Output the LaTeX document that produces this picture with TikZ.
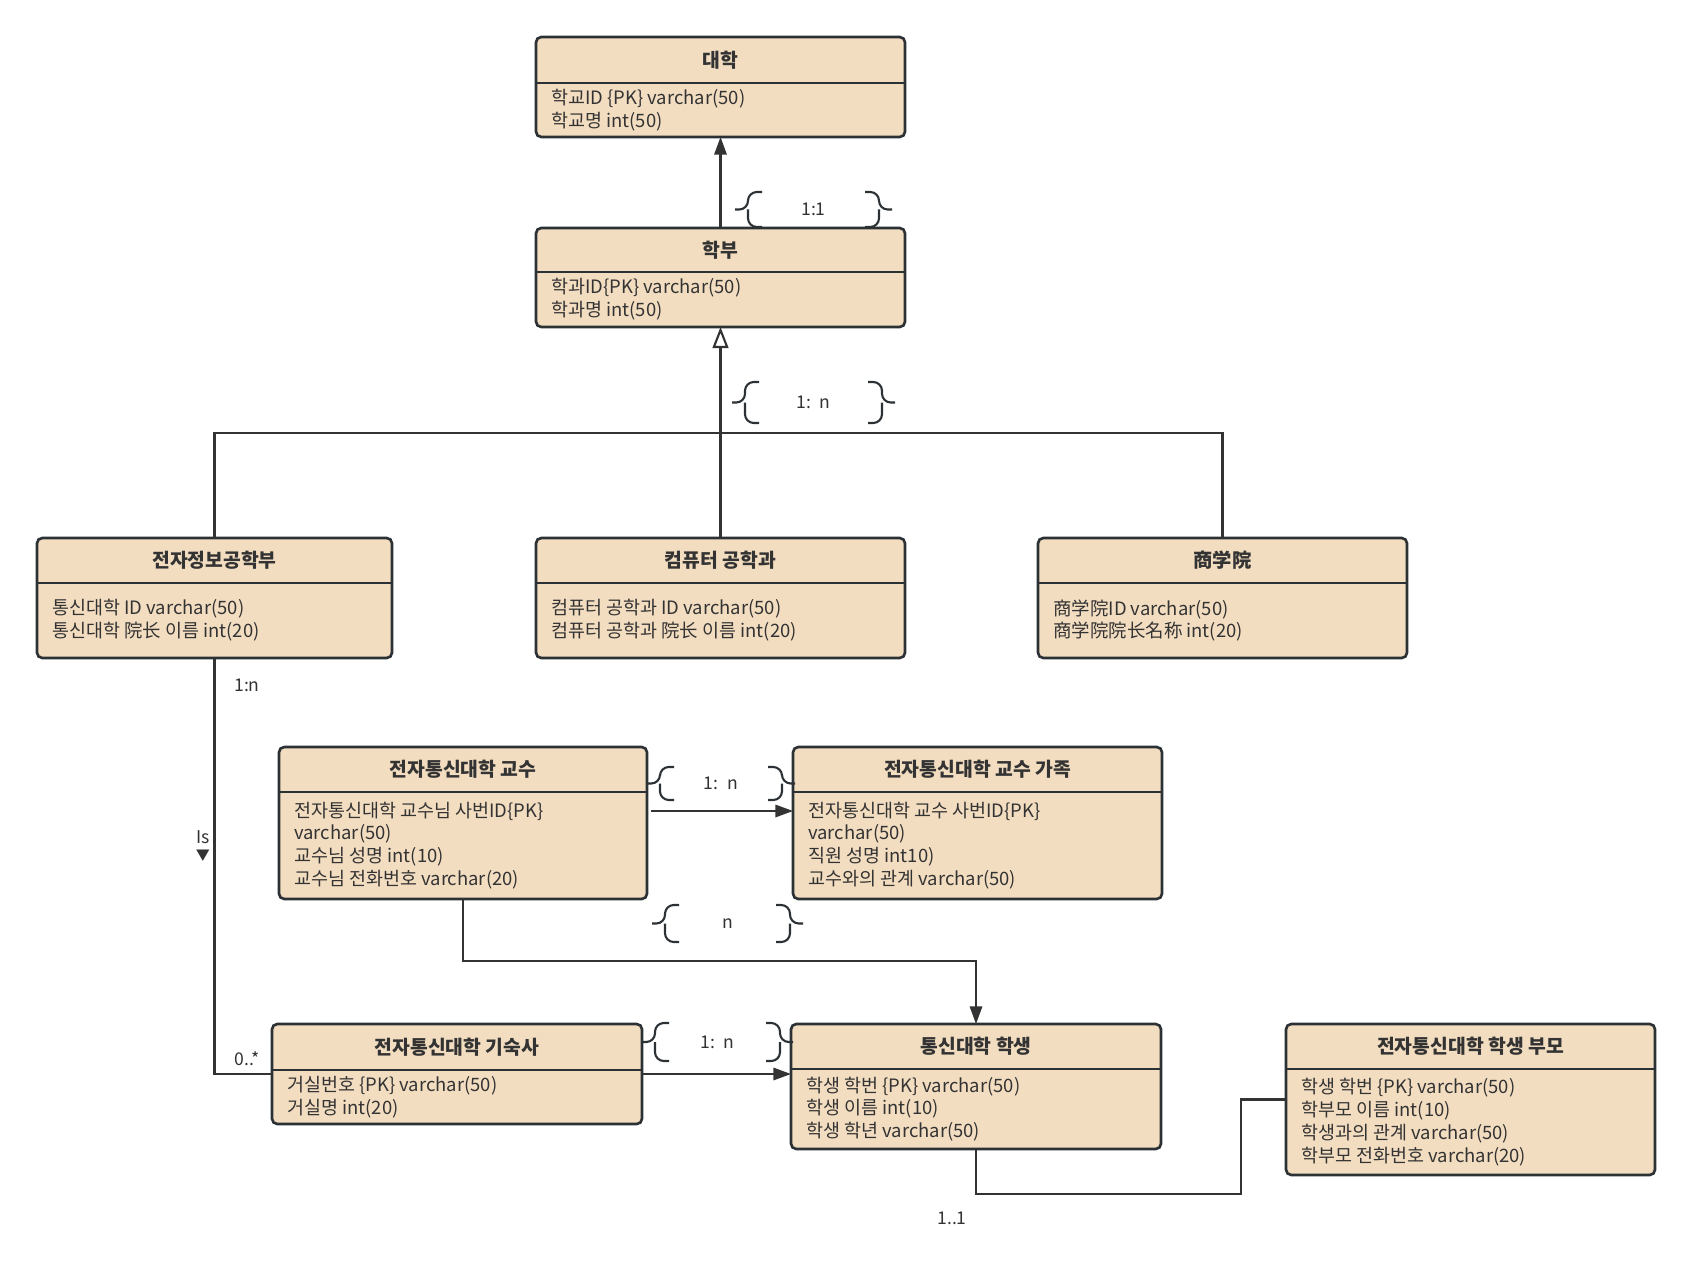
\documentclass[tikz,border=0pt]{standalone}
\usepackage{fontspec}
\setmainfont{Noto Sans CJK KR}
\usetikzlibrary{arrows.meta,positioning,calc}
\definecolor{boxfill}{HTML}{F3DDC1}
\definecolor{boxline}{HTML}{2B3135}
\definecolor{inkgray}{HTML}{333333}

% entity: name, x, y (top left, px), width, height, header height, title, rows
\newcommand{\entity}[8]{%
  \node[ebox, minimum width=#4*0.02cm, minimum height=#5*0.02cm,
        anchor=north west] (#1) at (#2,#3) {};
  \draw[eline] ($(#1.north west)+(0,#6)$) -- ($(#1.north east)+(0,#6)$);
  \node[etitle] (#1-t) at ($(#1.north)+(0,#6/2)$) {#7};
  \node[ebody, anchor=west] (#1-b) at ($(#1.north west)+(15,{(#5+#6)/2})$) {#8};
}
% relation brace pair: left tip x, right tip x, top y, bottom y, name, label
\newcommand{\relbrace}[6]{%
  \draw[brc] (#1+27,#3) -| (#1+13,{(#3+#4)/2}) -- (#1,{(#3+#4)/2});
  \draw[brc] (#1+27,#4) -| (#1+13,{(#3+#4)/2});
  \draw[brc] (#2-27,#3) -| (#2-13,{(#3+#4)/2}) -- (#2,{(#3+#4)/2});
  \draw[brc] (#2-27,#4) -| (#2-13,{(#3+#4)/2});
  \node[rlab] (#5) at ({(#1+#2)/2},{(#3+#4)/2}) {#6};
}

\begin{document}
\begin{tikzpicture}[x=0.02cm,y=-0.02cm,
  ebox/.style={draw=boxline,fill=boxfill,line width=1.5pt,rounded corners=3pt,
    inner sep=0pt,outer sep=0pt},
  eline/.style={draw=boxline,line width=1.5pt},
  etitle/.style={text=inkgray,font=\fontsize{11}{13}\selectfont\bfseries},
  ebody/.style={text=inkgray,align=left,inner sep=0pt,
    font=\fontsize{10.5}{13}\selectfont},
  conn/.style={draw=inkgray,line width=1.2pt},
  brc/.style={draw=boxline,line width=1.2pt,rounded corners=5pt},
  rlab/.style={text=inkgray,font=\fontsize{10}{12}\selectfont},
  fhead/.style={-{Triangle[length=10pt,width=7pt]}},
  ohead/.style={-{Triangle[open,length=12pt,width=9pt]}}]
  \fill[white] (0,0) rectangle (1692,1287);
  \useasboundingbox (0,0) rectangle (1692,1287);

  \entity{univ}{536}{37}{369}{100}{46}{대학}
    {학교ID \{PK\} varchar(50)\\학교명 int(50)}
  \entity{dept}{536}{228}{369}{99}{44}{학부}
    {학과ID\{PK\} varchar(50)\\학과명 int(50)}
  \entity{eie}{37}{538}{355}{120}{45}{전자정보공학부}
    {통신대학 ID varchar(50)\\통신대학 院长 이름 int(20)}
  \entity{cse}{536}{538}{369}{120}{45}{컴퓨터 공학과}
    {컴퓨터 공학과 ID varchar(50)\\컴퓨터 공학과 院长 이름 int(20)}
  \entity{biz}{1038}{538}{369}{120}{45}{商学院}
    {商学院ID varchar(50)\\商学院院长名称 int(20)}
  \entity{prof}{279}{747}{368}{152}{45}{전자통신대학 교수}
    {전자통신대학 교수님 사번ID\{PK\}\\varchar(50)\\교수님 성명 int(10)\\교수님 전화번호 varchar(20)}
  \entity{family}{793}{747}{369}{152}{45}{전자통신대학 교수 가족}
    {전자통신대학 교수 사번ID\{PK\}\\varchar(50)\\직원 성명 int10)\\교수와의 관계 varchar(50)}
  \entity{dorm}{272}{1024}{370}{100}{46}{전자통신대학 기숙사}
    {거실번호 \{PK\} varchar(50)\\거실명 int(20)}
  \entity{student}{791}{1024}{370}{125}{45}{통신대학 학생}
    {학생 학번 \{PK\} varchar(50)\\학생 이름 int(10)\\학생 학년 varchar(50)}
  \entity{parent}{1286}{1024}{369}{151}{45}{전자통신대학 학생 부모}
    {학생 학번 \{PK\} varchar(50)\\학부모 이름 int(10)\\학생과의 관계 varchar(50)\\학부모 전화번호 varchar(20)}

  % connectors
  \draw[conn,fhead] (dept.north) -- (univ.south);
  \coordinate (bus) at (721,433);
  \draw[conn,ohead] (cse.north) -- (dept.south);
  \draw[conn] (eie.north) |- (bus) -| (biz.north);
  \draw[conn] (eie.south) |- (dorm.west);
  \draw[conn,fhead] ($(prof.east)+(4,-12)$) -- ($(family.west)+(0,-12)$);
  \draw[conn,fhead] (prof.south) -- ++(0,62) -| (student.north);
  \draw[conn,fhead] (dorm.east) -- (dorm.east -| student.west);
  \draw[conn] (student.south) -- ++(0,45) -| ($(parent.west)+(-45,0)$) -- (parent.west);

  % relation labels
  \relbrace{735}{892}{192}{227}{r11}{1:1}
  \relbrace{732}{895}{382}{423}{r1n}{1:\enspace n}
  \relbrace{647}{795}{767}{800}{rpf}{1:\enspace n}
  \relbrace{652}{803}{905}{942}{rn}{n}
  \relbrace{642}{793}{1023}{1061}{rds}{1:\enspace n}
  \node[rlab] (m1n) at (247,685) {1:n};
  \node[rlab,align=center] (mis) at (203,846) {Is\\[-2pt]{\fontsize{8}{8}\selectfont▼}};
  \node[rlab] (m0s) at (247,1059) {0..*};
  \node[rlab] (m11) at (952,1218) {1..1};
\end{tikzpicture}
\end{document}
